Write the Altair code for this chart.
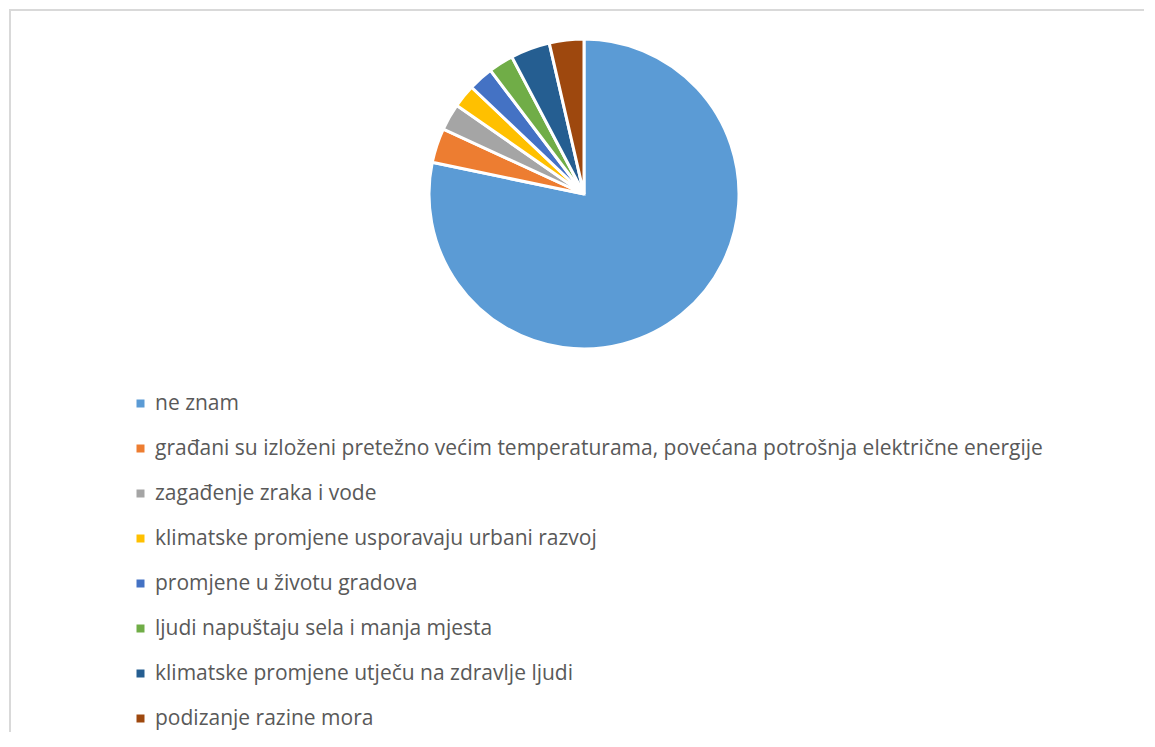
import altair as alt
import pandas as pd

categories = [
    "ne znam",
    "građani su izloženi pretežno većim temperaturama, povećana potrošnja električne energije",
    "zagađenje zraka i vode",
    "klimatske promjene usporavaju urbani razvoj",
    "promjene u životu gradova",
    "ljudi napuštaju sela i manja mjesta",
    "klimatske promjene utječu na zdravlje ljudi",
    "podizanje razine mora",
]
values = [78.2, 3.6, 2.8, 2.4, 2.6, 2.6, 4.1, 3.6]
colors = ["#5B9BD5", "#ED7D31", "#A5A5A5", "#FFC000", "#4472C4", "#70AD47", "#255E91", "#9E480E"]

df = pd.DataFrame({"kategorija": categories, "vrijednost": values, "red": list(range(len(values)))})

W, H = 1135, 700

pie = alt.Chart(df).mark_arc(outerRadius=155, stroke="white", strokeWidth=3).encode(
    theta=alt.Theta("vrijednost:Q", stack=True),
    order=alt.Order("red:Q"),
    color=alt.Color(
        "kategorija:N",
        scale=alt.Scale(domain=categories, range=colors),
        sort=categories,
        legend=alt.Legend(
            title=None,
            orient="none",
            legendX=121,
            legendY=385,
            symbolType="square",
            symbolSize=64,
            symbolStrokeWidth=0,
            labelFont="Open Sans",
            labelFontSize=21,
            labelColor="#595959",
            labelLimit=2000,
            rowPadding=23,
            labelOffset=4,
            padding=0,
        ),
    ),
    x=alt.value(575),
    y=alt.value(186),
)

frame = pd.DataFrame({"x": [1], "y": [2]})
frame_top = alt.Chart(frame).mark_rule(color="#d9d9d9", strokeWidth=2).encode(
    x=alt.value(0), x2=alt.value(W), y=alt.value(2)
)
frame_left = alt.Chart(frame).mark_rule(color="#d9d9d9", strokeWidth=2).encode(
    x=alt.value(1), y=alt.value(2), y2=alt.value(724)
)

chart = alt.layer(pie, frame_top, frame_left).properties(
    width=W, height=H, padding=0, background="white"
).configure_view(stroke="transparent", strokeWidth=0)

chart.save("out.html", embed_options={"renderer": "svg", "actions": False})
